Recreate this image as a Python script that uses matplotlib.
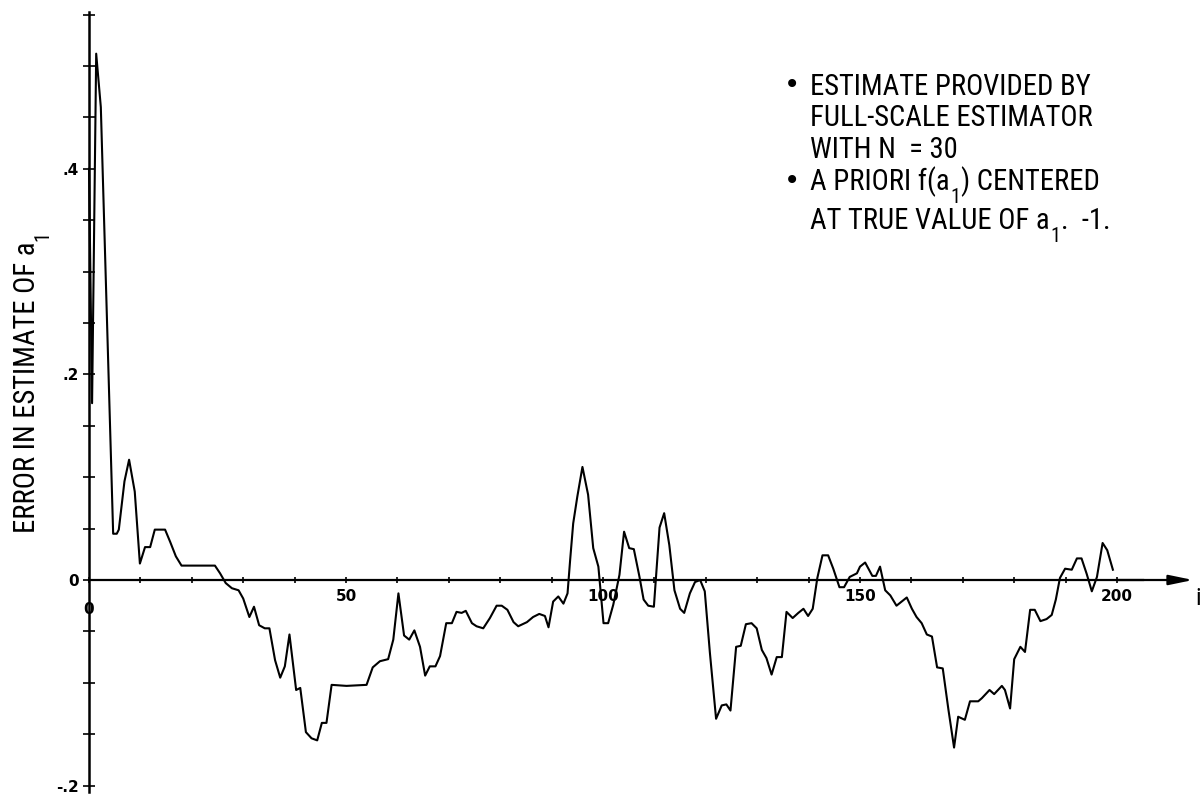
import matplotlib
matplotlib.use("Agg")
import matplotlib.pyplot as plt
from matplotlib import font_manager
from matplotlib.font_manager import FontProperties
from matplotlib.ticker import FixedLocator, MultipleLocator

# Error in the estimate of a1 against step i
step_i = [
    0.0, 0.6, 1.4, 2.3, 4.7, 5.4, 5.8, 6.9, 7.8, 8.9, 9.9, 10.9, 11.9, 12.8,
    14.8, 15.8, 16.9, 18.0, 24.5, 25.5, 26.6, 27.8, 29.1, 30.0, 31.2, 32.1,
    33.1, 34.2, 35.1, 36.2, 37.2, 38.1, 39.0, 40.3, 41.1, 42.2, 43.3, 44.4,
    45.3, 46.2, 47.2, 50.1, 54.0, 55.2, 56.6, 58.2, 59.2, 60.2, 61.3, 62.3,
    63.3, 64.4, 65.4, 66.3, 67.4, 68.3, 69.5, 70.6, 71.5, 72.5, 73.3, 74.5,
    75.4, 76.7, 78.0, 79.3, 80.3, 81.4, 82.6, 83.5, 85.2, 86.4, 87.6, 88.7,
    89.4, 90.3, 91.3, 92.3, 93.1, 93.6, 94.2, 95.0, 96.0, 97.1, 98.1, 99.1,
    100.1, 101.0, 102.0, 103.2, 104.1, 105.1, 106.0, 107.1, 107.9, 108.8,
    109.9, 111.0, 111.9, 112.9, 113.9, 115.0, 115.8, 116.9, 117.9, 118.9,
    119.8, 120.8, 122.0, 123.1, 124.0, 124.8, 125.9, 126.8, 127.8, 128.9,
    129.9, 130.9, 131.8, 132.8, 133.8, 134.8, 135.7, 136.9, 138.0, 139.0,
    139.9, 140.8, 141.7, 142.7, 143.8, 144.8, 146.0, 146.9, 148.0, 149.4,
    150.0, 151.0, 152.4, 153.1, 153.9, 154.9, 155.9, 157.1, 158.1, 159.1,
    160.1, 161.0, 162.0, 163.0, 164.0, 165.0, 166.1, 167.2, 168.3, 169.1,
    170.4, 171.4, 173.0, 173.7, 175.2, 176.1, 177.6, 178.2, 179.2, 180.0,
    181.2, 182.1, 183.1, 184.0, 185.1, 186.3, 187.3, 188.1, 188.9, 189.9,
    191.2, 192.2, 193.1, 194.1, 195.1, 196.1, 197.2, 198.1, 199.2,
]
error_a1 = [
    0.400, 0.172, 0.512, 0.460, 0.045, 0.045, 0.049, 0.096, 0.117, 0.086,
    0.016, 0.032, 0.032, 0.049, 0.049, 0.037, 0.023, 0.014, 0.014, 0.0065,
    -0.003, -0.008, -0.010, -0.018, -0.036, -0.026, -0.044, -0.047, -0.047,
    -0.078, -0.095, -0.084, -0.053, -0.107, -0.105, -0.148, -0.154, -0.156,
    -0.139, -0.139, -0.102, -0.103, -0.102, -0.085, -0.079, -0.077, -0.058,
    -0.013, -0.054, -0.058, -0.049, -0.065, -0.093, -0.084, -0.084, -0.074,
    -0.042, -0.042, -0.031, -0.032, -0.030, -0.042, -0.045, -0.047, -0.037,
    -0.025, -0.025, -0.029, -0.041, -0.045, -0.041, -0.036, -0.033, -0.035,
    -0.046, -0.021, -0.016, -0.023, -0.013, 0.019, 0.055, 0.081, 0.110,
    0.083, 0.031, 0.013, -0.042, -0.042, -0.024, 0.005, 0.047, 0.031, 0.030,
    0.003, -0.019, -0.025, -0.026, 0.051, 0.065, 0.034, -0.010, -0.028,
    -0.032, -0.013, -0.002, 0.000, -0.011, -0.071, -0.135, -0.122, -0.121,
    -0.127, -0.065, -0.064, -0.043, -0.042, -0.047, -0.068, -0.076, -0.092,
    -0.075, -0.075, -0.031, -0.037, -0.032, -0.028, -0.035, -0.028, 0.002,
    0.024, 0.024, 0.011, -0.007, -0.007, 0.003, 0.0065, 0.013, 0.017, 0.004,
    0.004, 0.013, -0.010, -0.015, -0.025, -0.021, -0.017, -0.028, -0.036,
    -0.042, -0.053, -0.055, -0.085, -0.086, -0.126, -0.163, -0.133, -0.136,
    -0.118, -0.118, -0.115, -0.107, -0.111, -0.103, -0.107, -0.125, -0.077,
    -0.065, -0.070, -0.029, -0.029, -0.040, -0.038, -0.034, -0.019, 0.002,
    0.011, 0.010, 0.021, 0.021, 0.006, -0.011, 0.003, 0.036, 0.029, 0.010,
]

x_major = [50, 100, 150, 200]
x_major_labels = ["50", "100", "150", "200"]
y_major = [-0.2, 0.0, 0.2, 0.4]
y_major_labels = ["-.2", "0", ".2", ".4"]

note_lines = [
    "ESTIMATE PROVIDED BY",
    "FULL-SCALE ESTIMATOR",
    "WITH N  = 30",
]
note_prior_head = "A PRIORI f(a"
note_prior_tail = ") CENTERED"
note_true_head = "AT TRUE VALUE OF a"
note_true_tail = ".  -1."
ylabel_head = "ERROR IN ESTIMATE OF a"
subscript = "1"


def condensed_font():
    """Pick a narrow sans-serif face if one is installed."""
    entries = font_manager.fontManager.ttflist
    wanted = ["Liberation Sans Narrow", "Roboto Condensed", "Open Sans Condensed",
              "Noto Sans Condensed", "DejaVu Sans Condensed"]
    for name in wanted:
        for f in entries:
            if f.name == name and f.style == "normal" and f.weight in (400, "normal", "regular"):
                return FontProperties(fname=f.fname)
    for f in entries:
        if (f.stretch in ("condensed", "semi-condensed", "extra-condensed")
                and f.style == "normal" and f.weight in (400, "normal", "regular")
                and f.name in ("DejaVu Sans", "Noto Sans", "Roboto", "Open Sans",
                               "Liberation Sans")):
            return FontProperties(fname=f.fname)
    for f in entries:
        if f.name == "Liberation Sans" and f.style == "normal" and f.weight in (400, "normal", "regular"):
            return FontProperties(fname=f.fname)
    return FontProperties(family="DejaVu Sans")


W, H = 1201, 798
fig = plt.figure(figsize=(W / 100, H / 100), dpi=100)
fig.patch.set_facecolor("white")
renderer = fig.canvas.get_renderer()

base_font = condensed_font()


def font(size):
    fp = base_font.copy()
    fp.set_size(size)
    return fp


# size the lettering so the first note line is about 280 px wide
probe = fig.text(0, 0, note_lines[0], fontproperties=font(20))
probe_w = probe.get_window_extent(renderer).width
probe.remove()
TXT = min(21.0, 20.0 * 280.0 / probe_w)
SUB = TXT * 0.7
DROP = TXT * 0.47

# axes laid out so that 0 on the x axis sits at x=89 px and y=0 at 580 px
x_lo, x_hi = -1, 216
y_lo, y_hi = -0.21, 0.56
px_x = 5.14
px_y = 1028.0
left = (89 + x_lo * px_x) / W
width = (x_hi - x_lo) * px_x / W
bottom = (H - (580 - y_lo * px_y)) / H
height = (y_hi - y_lo) * px_y / H
ax = fig.add_axes([left, bottom, width, height])
ax.set_xlim(x_lo, x_hi)
ax.set_ylim(y_lo, y_hi)
ax.patch.set_alpha(0)

ax.plot(step_i, error_a1, color="black", lw=1.5, zorder=3)

for side in ("top", "right"):
    ax.spines[side].set_visible(False)
ax.spines["left"].set_position(("data", 0))
ax.spines["left"].set_bounds(-0.206, 0.553)
ax.spines["left"].set_linewidth(1.8)
ax.spines["bottom"].set_position(("data", 0))
ax.spines["bottom"].set_bounds(0, 205)
ax.spines["bottom"].set_linewidth(1.6)

# x axis arrow
ax.annotate("", xy=(214.8, 0), xytext=(200, 0),
            arrowprops=dict(arrowstyle="-|>,head_length=1.45,head_width=0.3",
                            color="black", lw=1.6, shrinkA=0, shrinkB=0),
            annotation_clip=False)

ax.xaxis.set_major_locator(FixedLocator(x_major))
ax.set_xticklabels(x_major_labels)
ax.xaxis.set_minor_locator(MultipleLocator(10))
ax.yaxis.set_major_locator(FixedLocator(y_major))
ax.set_yticklabels(y_major_labels)
ax.yaxis.set_minor_locator(FixedLocator([k * 0.05 for k in range(-4, 12)]))

ax.tick_params(axis="x", which="both", direction="inout", length=5, width=1.2,
               pad=4, labelsize=11)
ax.tick_params(axis="y", which="both", direction="inout", length=8, width=1.2,
               pad=3.5, labelsize=11)
for lab in ax.get_xticklabels() + ax.get_yticklabels():
    lab.set_fontweight("bold")

ax.annotate("0", xy=(0, 0), xytext=(0, -21.5), textcoords="offset points",
            ha="center", va="center", fontsize=11, fontweight="bold")
ax.annotate("i", xy=(214.8, 0), xytext=(2, -18), textcoords="offset points",
            ha="left", va="baseline", fontproperties=font(TXT * 0.85),
            annotation_clip=False)


def fy(py):
    return 1 - py / H


def with_subscript(x_px, base_px, head, tail):
    t1 = fig.text(x_px / W, fy(base_px), head, fontproperties=font(TXT),
                  ha="left", va="baseline")
    t2 = ax.annotate(subscript, xy=(1, fy(base_px)),
                     xycoords=(t1, "figure fraction"),
                     xytext=(0.5, -DROP), textcoords="offset points",
                     fontproperties=font(SUB), ha="left", va="baseline",
                     annotation_clip=False)
    ax.annotate(tail, xy=(1, fy(base_px)), xycoords=(t2, "figure fraction"),
                xytext=(0.5, 0), textcoords="offset points",
                fontproperties=font(TXT), ha="left", va="baseline",
                annotation_clip=False)


# notes in the upper right
text_x = 810
for base, line in zip([95, 126.5, 158], note_lines):
    fig.text(text_x / W, fy(base), line, fontproperties=font(TXT),
             ha="left", va="baseline")
with_subscript(text_x, 190, note_prior_head, note_prior_tail)
with_subscript(text_x, 229, note_true_head, note_true_tail)
for by in (85, 181):
    fig.text(792 / W, fy(by), "\u2022", fontsize=20, family=["DejaVu Sans"],
             ha="center", va="center")

# rotated y axis label with subscript
yl = fig.text(35 / W, fy(533), ylabel_head, fontproperties=font(TXT),
              rotation=90, rotation_mode="anchor", ha="left", va="baseline")
ax.annotate(subscript, xy=(35 / W, 1), xycoords=("figure fraction", yl),
            xytext=(DROP, 0.5), textcoords="offset points",
            fontproperties=font(SUB), rotation=90, rotation_mode="anchor",
            ha="left", va="baseline", annotation_clip=False)

fig.savefig("out.png", dpi=100)
